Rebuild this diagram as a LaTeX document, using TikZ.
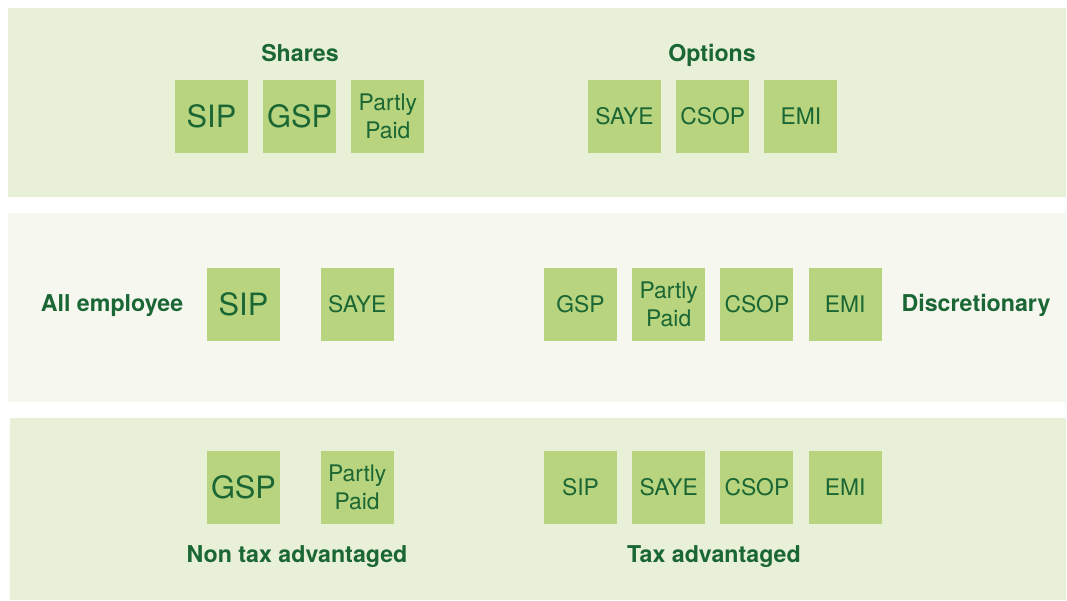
\documentclass[tikz,border=0pt]{standalone}
\usepackage{fontspec}
\setmainfont{TeX Gyre Heros}
\usetikzlibrary{positioning}
\definecolor{bandgreen}{HTML}{E8F0D8}
\definecolor{bandpale}{HTML}{F6F8F0}
\definecolor{boxgreen}{HTML}{B8D47E}
\definecolor{textgreen}{HTML}{1A6634}

\begin{document}
\begin{tikzpicture}[x=0.02cm,y=-0.02cm,node distance=0.29cm,
  scheme/.style={fill=boxgreen,text=textgreen,minimum size=1.46cm,inner sep=0pt,
    align=center,font=\fontsize{13}{16}\selectfont},
  big/.style={font=\fontsize{17.5}{20}\selectfont},
  heading/.style={text=textgreen,anchor=base,inner sep=0pt,
    font=\bfseries\fontsize{13.2}{15}\selectfont}]
\useasboundingbox[fill=white] (0,0) rectangle (1067,600);

% bands
\fill[bandgreen] (8,8) rectangle (1066,197);
\fill[bandpale] (8,213) rectangle (1066,402);
\fill[bandgreen] (10,418) rectangle (1066,600);

% shares / options
\node[heading] (shares) at (300,61) {Shares};
\node[scheme,big] (sip1) at (211.5,116.5) {SIP};
\node[scheme,big,right=of sip1] (gsp1) {GSP};
\node[scheme,right=of gsp1] (pp1) {Partly\\Paid};
\node[heading] (options) at (712,61) {Options};
\node[scheme] (saye1) at (624.5,116.5) {SAYE};
\node[scheme,right=of saye1] (csop1) {CSOP};
\node[scheme,right=of csop1] (emi1) {EMI};

% all employee / discretionary
\node[heading] (allemp) at (112,311) {All employee};
\node[scheme,big] (sip2) at (243.5,304.5) {SIP};
\node[scheme,right=0.8cm of sip2] (saye2) {SAYE};
\node[scheme] (gsp2) at (580.5,304.5) {GSP};
\node[scheme,right=of gsp2] (pp2) {Partly\\Paid};
\node[scheme,right=of pp2] (csop2) {CSOP};
\node[scheme,right=of csop2] (emi2) {EMI};
\node[heading] (discr) at (976,311) {Discretionary};

% tax treatment
\node[scheme,big] (gsp3) at (243.5,487.5) {GSP};
\node[scheme,right=0.8cm of gsp3] (pp3) {Partly\\Paid};
\node[heading] (nontax) at (297,562) {Non tax advantaged};
\node[scheme] (sip3) at (580.5,487.5) {SIP};
\node[scheme,right=of sip3] (saye3) {SAYE};
\node[scheme,right=of saye3] (csop3) {CSOP};
\node[scheme,right=of csop3] (emi3) {EMI};
\node[heading] (tax) at (714,562) {Tax advantaged};

\end{tikzpicture}
\end{document}
